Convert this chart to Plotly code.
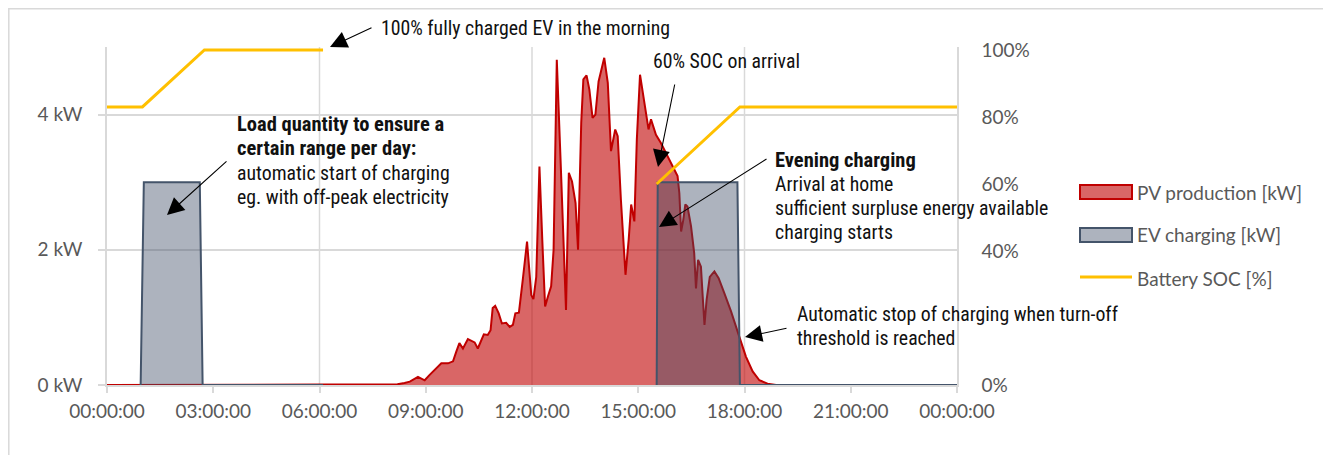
import pandas as pd
import plotly.graph_objects as go

# ---------------- data ----------------
pv_hours = [0.0, 8.0, 8.2, 8.4, 8.55, 8.78, 8.97, 9.11, 9.25, 9.44, 9.63, 9.77, 9.86, 9.95, 10.05,
            10.19, 10.38, 10.47, 10.64, 10.75, 10.83, 10.89, 10.96, 11.06, 11.15, 11.27, 11.37,
            11.46, 11.53, 11.63, 11.74, 11.86, 11.98, 12.04, 12.12, 12.21, 12.29, 12.37, 12.45,
            12.54, 12.61, 12.70, 12.82, 12.96, 13.04, 13.13, 13.23, 13.30, 13.39, 13.45, 13.54,
            13.62, 13.71, 13.79, 13.88, 14.04, 14.14, 14.23, 14.35, 14.42, 14.51, 14.64, 14.73,
            14.80, 14.89, 14.96, 15.05, 15.17, 15.29, 15.36, 15.43, 15.50, 15.64, 15.83, 15.99,
            16.11, 16.16, 16.21, 16.27, 16.33, 16.39, 16.49, 16.58, 16.63, 16.69, 16.77, 16.82,
            16.87, 16.93, 17.02, 17.15, 17.27, 17.43, 17.62, 17.85, 18.04, 18.23, 18.42, 18.65,
            18.89, 24.0]
pv_kw = [0, 0, 0.01, 0.03, 0.05, 0.12, 0.07, 0.15, 0.22, 0.32, 0.32, 0.35, 0.49, 0.62, 0.54,
         0.68, 0.63, 0.54, 0.75, 0.74, 0.81, 1.14, 1.17, 1.06, 0.91, 0.92, 0.86,
         0.89, 1.06, 1.07, 1.56, 2.12, 1.33, 1.27, 1.60, 3.23, 2.15, 1.16, 1.31,
         1.46, 2.0, 4.81, 3.14, 1.11, 3.14, 3.01, 2.69, 2.0, 3.88, 4.52, 4.58,
         4.37, 3.95, 4.0, 4.49, 4.84, 4.47, 3.46, 3.78, 3.68, 2.74, 1.63, 2.15,
         2.67, 2.42, 3.63, 4.59, 4.17, 3.78, 3.93, 3.83, 3.70, 3.58, 3.38, 3.21,
         3.09, 2.84, 2.27, 2.44, 2.67, 2.64, 2.35, 1.95, 1.43, 1.85, 1.75, 1.31,
         0.89, 1.26, 1.60, 1.68, 1.58, 1.36, 1.09, 0.72, 0.42, 0.20, 0.07, 0.02,
         0, 0]

ev_hours = [0.95, 1.04, 2.62, 2.70, 6.1, None, 15.52, 15.55, 17.80, 17.87, 24.0]
ev_kw = [0, 3, 3, 0, 0, None, 0, 3, 3, 0, 0]

soc_hours = [0.0, 1.0, 2.75, 6.1, None, 15.52, 17.87, 24.0]
soc_pct = [83, 83, 100, 100, None, 60, 83, 83]

x_tick_hours = [0, 3, 6, 9, 12, 15, 18, 21, 24]
grid_hours = [6, 12, 18]
kw_ticks = [0, 2, 4]
kw_ticktext = ["0 kW", "2 kW", "4 kW"]
pct_ticks = [0, 40, 60, 80, 100]
pct_ticktext = ["0%", "40%", "60%", "80%", "100%"]

series_names = ["PV production [kW]", "EV charging [kW]", "Battery SOC [%]"]

# ---------------- helpers ----------------
BASE = pd.Timestamp("2024-01-01")


def ts(h):
    return None if h is None else BASE + pd.Timedelta(hours=h)


OFF = 8  # page body margin
W_FIG, H_FIG = 1331 - OFF, 455 - OFF
L, T = 107 - OFF, 47 - OFF
PW, PH = 850, 338
R = W_FIG - L - PW
B = H_FIG - T - PH


def PX(px):
    return (px - OFF - L) / PW


def PY(py):
    return (T + PH - (py - OFF)) / PH


TICK_FONT = dict(family="Lato, Open Sans, sans-serif", size=19, color="#595959")
NOTE_FAMILY = "Liberation Sans Narrow, Arial Narrow, Roboto Condensed, DejaVu Sans Condensed, sans-serif"
GRID = "#D9D9D9"

fig = go.Figure()

fig.add_trace(go.Scatter(
    x=[ts(h) for h in pv_hours], y=pv_kw, name=series_names[0], mode="lines",
    line=dict(color="#C00000", width=2), fill="tozeroy", fillcolor="rgba(192,0,0,0.6)",
    showlegend=False, yaxis="y"))

fig.add_trace(go.Scatter(
    x=[ts(h) for h in ev_hours], y=ev_kw, name=series_names[1], mode="lines",
    line=dict(color="#44546A", width=2), fill="tozeroy", fillcolor="rgba(60,75,100,0.42)",
    connectgaps=False, showlegend=False, yaxis="y"))

fig.add_trace(go.Scatter(
    x=[ts(h) for h in soc_hours], y=soc_pct, name=series_names[2], mode="lines",
    line=dict(color="#FFC000", width=3), connectgaps=False, showlegend=False, yaxis="y2"))

shapes = []
for g in grid_hours:
    shapes.append(dict(type="line", xref="x", yref="paper", x0=ts(g), x1=ts(g), y0=0, y1=1,
                       line=dict(color=GRID, width=1.5), layer="below"))
# outer chart border
shapes.append(dict(type="rect", xref="paper", yref="paper", x0=PX(8.8), x1=PX(1324),
                   y0=PY(470), y1=PY(8.8), line=dict(color=GRID, width=1.5)))

# custom legend
leg_x0, leg_x1 = 1080, 1132
shapes.append(dict(type="rect", xref="paper", yref="paper", x0=PX(leg_x0), x1=PX(leg_x1),
                   y0=PY(199), y1=PY(185), fillcolor="rgba(192,0,0,0.6)",
                   line=dict(color="#C00000", width=2)))
shapes.append(dict(type="rect", xref="paper", yref="paper", x0=PX(leg_x0), x1=PX(leg_x1),
                   y0=PY(242), y1=PY(228), fillcolor="rgba(60,75,100,0.42)",
                   line=dict(color="#44546A", width=2)))
shapes.append(dict(type="line", xref="paper", yref="paper", x0=PX(leg_x0), x1=PX(leg_x1),
                   y0=PY(277), y1=PY(277), line=dict(color="#FFC000", width=3)))

annotations = []
for name, yc in zip(series_names, [192, 235, 278]):
    annotations.append(dict(text=name, xref="paper", yref="paper", x=PX(1135), y=PY(yc),
                            xanchor="left", yanchor="middle", showarrow=False,
                            font=dict(family=TICK_FONT["family"], size=19, color="#595959")))


def note(text, px, py, bold=False):
    t = f"<b>{text}</b>" if bold else text
    size = 20.5 if bold else 19.8
    annotations.append(dict(text=t, xref="paper", yref="paper", x=PX(px), y=PY(py),
                            xanchor="left", yanchor="middle", showarrow=False,
                            font=dict(family=NOTE_FAMILY, size=size, color="#111111")))


note("100% fully charged EV in the morning", 379, 29)
note("60% SOC on arrival", 651, 61)
note("Load quantity to ensure a", 235, 124, bold=True)
note("certain range per day:", 235, 148, bold=True)
note("automatic start of charging", 235, 173)
note("eg. with off-peak electricity", 235, 197)
note("Evening charging", 773, 160, bold=True)
note("Arrival at home", 773, 184)
note("sufficient surpluse energy available", 773, 208)
note("charging starts", 773, 232)
note("Automatic stop of charging when turn-off", 795, 314)
note("threshold is reached", 795, 338)


def arrow(tail, tip):
    annotations.append(dict(text="", xref="paper", yref="paper", x=PX(tip[0]), y=PY(tip[1]),
                            axref="pixel", ayref="pixel", ax=tail[0] - tip[0], ay=tail[1] - tip[1],
                            showarrow=True, arrowhead=2, arrowsize=3.1, arrowwidth=1.1,
                            arrowcolor="#000000", standoff=0))


arrow((373, 27), (330, 47))
arrow((228, 160), (167, 215))
arrow((675, 83), (658, 167))
arrow((768, 158), (659, 227))
arrow((788, 328), (745, 337))

fig.update_layout(
    width=W_FIG, height=H_FIG, autosize=False,
    margin=dict(l=L, r=R, t=T, b=B, pad=0),
    paper_bgcolor="white", plot_bgcolor="white",
    showlegend=False,
    xaxis=dict(type="date", range=[ts(0), ts(24)], tickvals=[ts(h) for h in x_tick_hours],
               tickformat="%H:%M:%S", showgrid=False, zeroline=False,
               showline=True, linecolor=GRID, linewidth=1.5,
               ticks="outside", ticklen=6, tickcolor=GRID, tickwidth=1.5,
               tickfont=TICK_FONT, ticklabelstandoff=2),
    yaxis=dict(range=[0, 5], tickvals=kw_ticks, ticktext=kw_ticktext,
               showgrid=True, gridcolor=GRID, gridwidth=1.5, zeroline=False,
               showline=True, linecolor=GRID, linewidth=1.5,
               ticks="outside", ticklen=7, tickcolor=GRID, tickwidth=1.5,
               tickfont=TICK_FONT, ticklabelstandoff=12),
    yaxis2=dict(range=[0, 100.9], overlaying="y", side="right", tickvals=pct_ticks,
                ticktext=pct_ticktext, showgrid=False, zeroline=False,
                showline=True, linecolor=GRID, linewidth=1.5, ticks="",
                tickfont=TICK_FONT, ticklabelstandoff=19),
    shapes=shapes,
    annotations=annotations,
)

fig.write_html("out.html")
